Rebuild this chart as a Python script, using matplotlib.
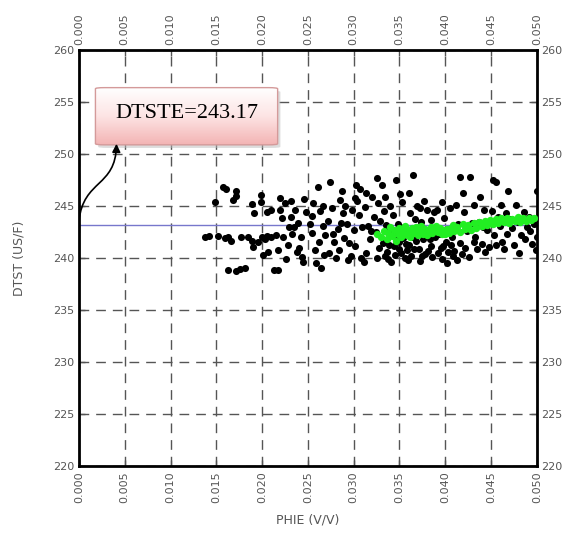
import numpy as np
import matplotlib
matplotlib.use("Agg")
import matplotlib.pyplot as plt
from matplotlib.patches import FancyBboxPatch, FancyArrowPatch
from matplotlib.path import Path
from matplotlib.colors import LinearSegmentedColormap

# black points: PHIE, DTST
phie_all = [0.0138, 0.0142, 0.0149, 0.0152,
            0.0157, 0.0161, 0.0163, 0.0166, 0.0168, 0.0163, 0.0160,
            0.0172, 0.0172, 0.0177, 0.0172, 0.0176, 0.0181, 0.0185, 0.0189, 0.0189, 0.0190,
            0.0191, 0.0199, 0.0199, 0.0200, 0.0203, 0.0205, 0.0205, 0.0207, 0.0210, 0.0210, 0.0196, 0.0201,
            0.0215, 0.0217, 0.0220, 0.0222, 0.0223, 0.0217, 0.0213, 0.0225, 0.0228, 0.0226, 0.0229, 0.0220,
            0.0232, 0.0236, 0.0239, 0.0233, 0.0240, 0.0244, 0.0246, 0.0235, 0.0242, 0.0248, 0.0238, 0.0232, 0.0245,
            0.0252, 0.0255, 0.0258, 0.0261, 0.0256, 0.0263, 0.0266, 0.0262, 0.0264, 0.0268, 0.0269, 0.0254, 0.0259, 0.0267,
            0.0274, 0.0272, 0.0276, 0.0279, 0.0281, 0.0283, 0.0285, 0.0287, 0.0288, 0.0284, 0.0289, 0.0277, 0.0273, 0.0286,
            0.0291, 0.0293, 0.0295, 0.0297, 0.0298, 0.0300, 0.0303, 0.0307, 0.0304, 0.0306, 0.0302, 0.0308, 0.0309, 0.0294, 0.0301,
            0.0314, 0.0312, 0.0316, 0.0318, 0.0313, 0.0311, 0.0320, 0.0322, 0.0324, 0.0326, 0.0327, 0.0328, 0.0325, 0.0329, 0.0319,
            0.0331, 0.0333, 0.0335, 0.0332, 0.0336, 0.0338, 0.0340, 0.0342, 0.0344, 0.0345, 0.0346, 0.0343, 0.0348, 0.0349, 0.0337, 0.0341, 0.0347, 0.0334,
            0.0351, 0.0353, 0.0355, 0.0357, 0.0352, 0.0359, 0.0360, 0.0362, 0.0364, 0.0365, 0.0366, 0.0368, 0.0369, 0.0356, 0.0363, 0.0367, 0.0354,
            0.0372, 0.0374, 0.0376, 0.0378, 0.0380, 0.0382, 0.0384, 0.0386, 0.0388, 0.0373, 0.0381, 0.0389, 0.0385, 0.0377,
            0.0391, 0.0393, 0.0395, 0.0397, 0.0399, 0.0401, 0.0403, 0.0405, 0.0407, 0.0409, 0.0396, 0.0402,
            0.0412, 0.0414, 0.0416, 0.0418, 0.0416, 0.0420, 0.0422, 0.0424, 0.0426, 0.0427, 0.0419, 0.0429, 0.0413,
            0.0431, 0.0433, 0.0435, 0.0437, 0.0438, 0.0440, 0.0442, 0.0444, 0.0446, 0.0448, 0.0432, 0.0441,
            0.0452, 0.0456, 0.0451, 0.0453, 0.0455, 0.0458, 0.0460, 0.0462, 0.0464, 0.0466, 0.0468, 0.0461, 0.0469,
            0.0471, 0.0473, 0.0475, 0.0477, 0.0479, 0.0481, 0.0483, 0.0485, 0.0487, 0.0489, 0.0491, 0.0493, 0.0495, 0.0497, 0.0500, 0.0500, 0.0499, 0.0486,
            0.0334, 0.0339, 0.0350, 0.0358, 0.0361, 0.0371, 0.0375, 0.0383, 0.0392, 0.0398, 0.0406, 0.0410, 0.0344, 0.0356, 0.0366]
dtst_all = [242.0, 242.1, 245.4, 242.1,
            246.8, 246.7, 242.0, 241.7, 245.6, 238.9, 241.9,
            246.5, 246.0, 242.0, 238.8, 239.0, 239.1, 242.0, 245.2, 241.7, 241.1,
            244.3, 246.1, 245.4, 242.0, 241.8, 244.4, 242.1, 240.6, 244.6, 242.0, 241.6, 240.3,
            242.2, 240.8, 244.6, 243.9, 242.0, 238.9, 238.9, 245.3, 241.3, 239.9, 243.0, 245.8,
            245.5, 244.6, 243.4, 242.3, 241.0, 240.1, 245.7, 243.0, 242.0, 244.4, 240.6, 244.0, 239.6,
            243.3, 242.4, 240.8, 246.8, 245.3, 244.5, 243.1, 241.6, 239.1, 240.3, 242.2, 244.1, 239.5, 245.0,
            247.3, 243.6, 244.8, 241.6, 240.0, 242.8, 245.6, 246.5, 244.3, 240.8, 241.9, 242.3, 240.5, 243.4,
            245.0, 243.3, 241.5, 240.2, 244.6, 242.7, 247.0, 246.7, 245.5, 244.2, 241.2, 240.0, 243.0, 239.8, 245.8,
            246.3, 244.9, 243.1, 241.8, 240.5, 239.6, 245.9, 244.0, 242.5, 247.7, 245.3, 241.0, 240.0, 243.6, 242.6,
            247.0, 244.5, 243.2, 241.5, 240.6, 239.9, 245.0, 242.2, 241.2, 240.3, 247.5, 244.2, 243.3, 240.9, 242.8, 239.6, 241.8, 245.9,
            246.2, 245.4, 243.0, 241.4, 240.5, 239.8, 246.3, 244.3, 242.0, 248.0, 240.9, 241.7, 245.0, 240.0, 240.2, 243.8, 241.9,
            244.8, 243.5, 241.8, 240.4, 244.6, 242.5, 241.2, 240.1, 244.4, 239.7, 240.7, 242.0, 243.7, 245.5,
            244.6, 242.3, 241.0, 239.9, 243.9, 241.6, 240.6, 244.8, 242.0, 240.2, 245.4, 239.5,
            245.1, 243.3, 241.5, 240.4, 247.8, 244.4, 241.0, 242.6, 240.1, 247.8, 246.3, 243.4, 239.8,
            245.1, 242.0, 240.9, 243.5, 245.9, 241.4, 244.6, 240.6, 242.7, 241.1, 241.6, 243.0,
            247.5, 247.3, 244.5, 242.2, 241.3, 244.0, 243.1, 241.6, 240.9, 244.3, 242.3, 245.1, 246.5,
            243.8, 242.9, 241.3, 245.1, 243.5, 240.5, 242.2, 243.7, 241.8, 243.0, 244.0, 242.6, 241.4, 243.3, 246.5, 242.0, 240.8, 244.4,
            240.2, 241.3, 241.6, 240.8, 241.3, 240.9, 240.2, 241.8, 240.5, 241.2, 241.3, 240.7, 242.5, 242.6, 242.4]

# green points (selected interval)
phie_sel = [0.0325, 0.0330, 0.0333, 0.0336, 0.0338, 0.0340, 0.0342, 0.0344, 0.0346, 0.0348,
            0.0350, 0.0352, 0.0354, 0.0356, 0.0358, 0.0360, 0.0362, 0.0364, 0.0366, 0.0368,
            0.0370, 0.0372, 0.0374, 0.0376, 0.0378, 0.0380, 0.0382, 0.0384, 0.0386, 0.0388,
            0.0390, 0.0392, 0.0394, 0.0396, 0.0398, 0.0400, 0.0402, 0.0404, 0.0406, 0.0408,
            0.0410, 0.0413, 0.0416, 0.0419, 0.0422, 0.0425, 0.0428, 0.0431, 0.0434, 0.0437,
            0.0440, 0.0443, 0.0446, 0.0449, 0.0452, 0.0455, 0.0458, 0.0461, 0.0464, 0.0467,
            0.0470, 0.0473, 0.0476, 0.0479, 0.0482, 0.0485, 0.0488, 0.0491, 0.0494, 0.0497]
dtst_sel = [242.3, 242.0, 242.6, 241.8, 242.4, 243.0, 242.1, 242.7, 241.7, 242.3,
            242.9, 242.0, 242.5, 243.1, 242.2, 242.7, 242.0, 242.9, 242.4, 243.0,
            242.2, 242.7, 243.1, 242.3, 242.8, 242.2, 242.6, 243.0, 242.4, 242.8,
            243.1, 242.5, 242.9, 242.3, 242.7, 242.3, 242.8, 242.4, 242.9, 243.2,
            242.6, 243.0, 242.5, 243.3, 242.8, 243.2, 242.7, 243.4, 242.9, 243.5,
            243.1, 243.6, 243.2, 243.7, 243.3, 243.8, 243.4, 243.9, 243.5, 243.9,
            243.4, 243.8, 243.6, 244.0, 243.5, 243.9, 243.6, 243.9, 243.7, 243.9]

dtste = 243.17
xticks = np.arange(0, 0.0501, 0.005)
yticks = np.arange(220, 261, 5)

fig = plt.figure(figsize=(5.68, 5.34), dpi=100)
ax = fig.add_axes([0.139, 0.127, 0.806, 0.779])

ax.scatter(phie_all, dtst_all, s=26, c="black", linewidths=0, zorder=3)
ax.scatter(phie_sel, dtst_sel, s=28, c="#22ee22", linewidths=0, zorder=4)
ax.axhline(dtste, color="#7777cc", lw=1.0, zorder=2)

ax.set_xlim(0, 0.05)
ax.set_ylim(220, 260)
ax.set_xticks(xticks)
ax.set_yticks(yticks)
ax.set_xticklabels(["%.3f" % v for v in xticks])
ax.grid(True, color="#555555", lw=1.0, linestyle=(0, (7, 5)))
ax.set_axisbelow(True)
for sp in ax.spines.values():
    sp.set_linewidth(2)
ax.tick_params(axis="both", direction="in", length=4, width=1, colors="#555555",
               labelsize=8, top=True, right=True, labeltop=True, labelright=True)
ax.tick_params(axis="x", labelrotation=90)
ax.set_xlabel("PHIE (V/V)", color="#555555", fontsize=9, labelpad=8)
ax.set_ylabel("DTST (US/F)", color="#555555", fontsize=9, labelpad=20)

# annotation box with gradient fill (white at top, pink at bottom)
bx0, bx1, by0, by1 = 0.0018, 0.0217, 250.9, 256.4
shadow = FancyBboxPatch((bx0 + 0.0003, by0 - 0.3), bx1 - bx0, by1 - by0,
                        boxstyle="round,pad=0,rounding_size=0.001", mutation_aspect=110,
                        fc="#bbbbbb", ec="none", alpha=0.5, zorder=5)
ax.add_patch(shadow)
box = FancyBboxPatch((bx0, by0), bx1 - bx0, by1 - by0,
                     boxstyle="round,pad=0,rounding_size=0.001", mutation_aspect=110,
                     fc="none", ec="#d49a9a", lw=1, zorder=7)
ax.add_patch(box)
grad = np.linspace(0, 1, 100).reshape(-1, 1)
cmap = LinearSegmentedColormap.from_list("pk", ["#ffffff", "#fde4e4", "#f3b4b4"])
im = ax.imshow(grad, extent=[bx0, bx1, by0, by1], cmap=cmap, aspect="auto",
               origin="upper", zorder=6)
im.set_clip_path(box)
ax.set_xlim(0, 0.05)
ax.set_ylim(220, 260)
ax.text((bx0 + bx1) / 2, (by0 + by1) / 2 + 0.3, "DTSTE=%.2f" % dtste,
        family="Liberation Serif", fontsize=16, ha="center", va="center", zorder=8)

verts = [(0.0, 243.6), (0.0005, 247.6), (0.0040, 246.8), (0.0041, 251.0)]
arrow = FancyArrowPatch(path=Path(verts, [Path.MOVETO, Path.CURVE4, Path.CURVE4, Path.CURVE4]),
                        arrowstyle="-|>", mutation_scale=12, color="black", lw=1.2, zorder=8)
ax.add_patch(arrow)

fig.savefig("out.png", dpi=100)
